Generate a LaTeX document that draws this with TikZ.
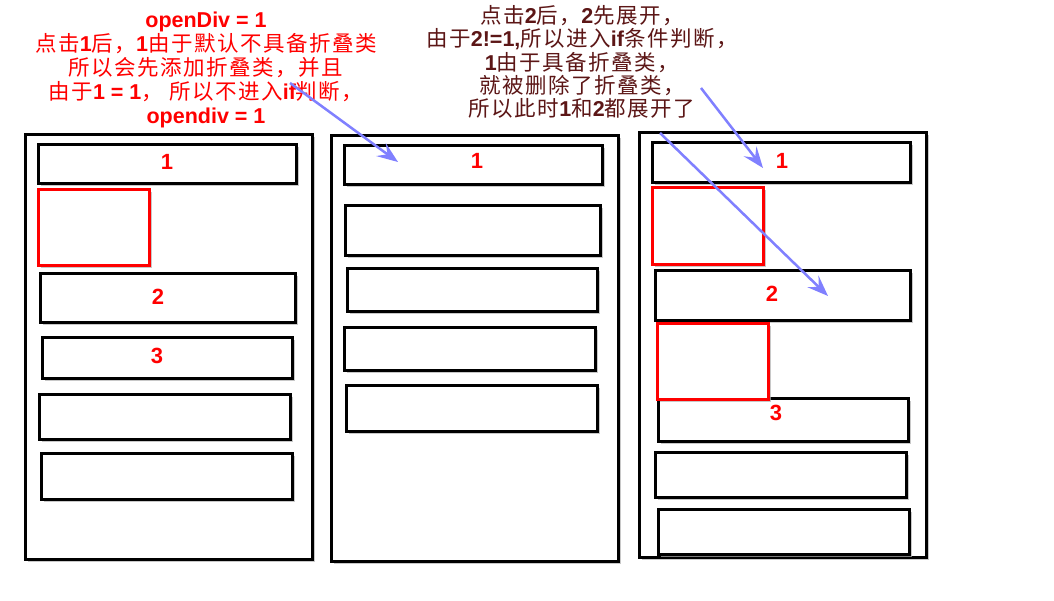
\documentclass[tikz,border=0pt]{standalone}
\usepackage{fontspec}
\setmainfont{Liberation Sans}
\newfontfamily\cjk[LetterSpace=7]{Noto Sans CJK SC}
\usetikzlibrary{arrows.meta,shadows}
\newcommand\lat[1]{{\normalfont\bfseries #1}}
\definecolor{pointerblue}{RGB}{128,128,255}
\definecolor{notebrown}{RGB}{92,22,22}

\begin{document}
\begin{tikzpicture}[x=1pt, y=-1pt,
	shade box/.style={drop shadow={shadow xshift=3pt, shadow yshift=-3pt, fill=black!30, opacity=0.7}},
	panel/.style={draw=black, line width=3pt, fill=white, shade box},
	item/.style={draw=black, line width=3pt, fill=white, shade box},
	fold/.style={draw=red, line width=3pt, fill=white, shade box},
	num/.style={text=red, font=\fontsize{22}{22}\selectfont\bfseries, inner sep=0pt},
	note/.style={align=center, inner sep=0pt, font=\cjk\fontsize{21.5}{24}\selectfont},
	pointer/.style={draw=pointerblue, line width=2.5pt, -{Stealth[length=21pt, width=16pt, inset=8pt]}}]
		%%%%% START %%%%%
		
		\fill[white] (0, 0) rectangle (1054, 600);
		\useasboundingbox (0, 0) rectangle (1054, 600);
		
		% first state
		\path[panel] (25, 134) rectangle (312, 559);
		\path[item] (38, 144) rectangle (296, 183);
		\path[fold] (38, 189) rectangle (149, 265);
		\path[item] (40, 273) rectangle (295, 322);
		\path[item] (42, 337) rectangle (292, 378);
		\path[item] (39, 394) rectangle (290, 439);
		\path[item] (41, 453) rectangle (292, 499);
		\node[num] (l1) at (167, 162) {1};
		\node[num] (l2) at (158, 297) {2};
		\node[num] (l3) at (157, 356) {3};
		
		% second state
		\path[panel] (331, 135) rectangle (618, 561);
		\path[item] (344, 145) rectangle (602, 184);
		\path[item] (345, 205) rectangle (600, 255);
		\path[item] (347, 268) rectangle (597, 311);
		\path[item] (344, 327) rectangle (595, 370);
		\path[item] (346, 385) rectangle (597, 431);
		\node[num] (m1) at (477, 161) {1};
		
		% third state
		\path[panel] (639, 132) rectangle (926, 557);
		\path[item] (652, 142) rectangle (910, 182);
		\path[fold] (652, 187) rectangle (763, 264);
		\path[item] (655, 270) rectangle (910, 320);
		\path[item] (658, 398) rectangle (908, 441);
		\path[fold] (657, 323) rectangle (768, 399);
		\path[item] (655, 452) rectangle (906, 497);
		\path[item] (658, 509) rectangle (909, 554);
		\node[num] (r1) at (782, 161) {1};
		\node[num] (r2) at (772, 294) {2};
		\node[num] (r3) at (776, 413) {3};
		
		% notes
		\node[note, text=red] (firstnote) at (206, 70) {\lat{openDiv = 1}\\
			点击\lat{1}后，\lat{1}由于默认不具备折叠类\\
			所以会先添加折叠类，并且\\
			由于\lat{1 = 1}， 所以不进入\lat{if}判断，\\
			\lat{opendiv = 1}};
		\node[note, text=notebrown, font=\cjk\fontsize{21.5}{23.3}\selectfont] (secondnote) at (582, 62) {点击\lat{2}后，\lat{2}先展开，\\
			由于\lat{2!=1,}所以进入\lat{if}条件判断，\\
			\lat{1}由于具备折叠类，\\
			就被删除了折叠类，\\
			所以此时\lat{1}和\lat{2}都展开了};
		
		% pointers
		\coordinate (p1s) at (290, 83);
		\coordinate (p1e) at (398, 162);
		\coordinate (p2s) at (701, 88);
		\coordinate (p2e) at (763, 168);
		\coordinate (p3s) at (660, 133);
		\coordinate (p3e) at (828, 296);
		\draw[pointer] (p1s) -- (p1e);
		\draw[pointer] (p2s) -- (p2e);
		\draw[pointer] (p3s) -- (p3e);
		
		%%%%% END %%%%%
\end{tikzpicture}
\end{document}
